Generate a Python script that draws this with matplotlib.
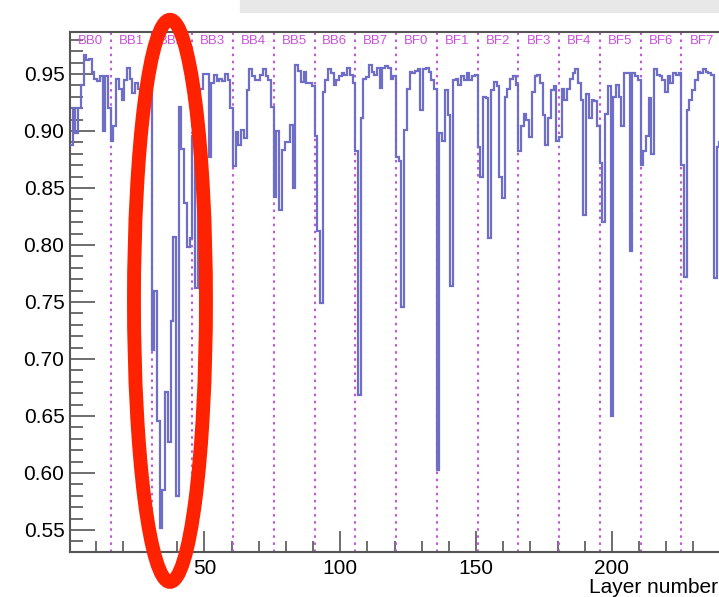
import numpy as np
import matplotlib.pyplot as plt
from matplotlib.patches import Ellipse, Rectangle
from matplotlib.ticker import MultipleLocator

plt.rcParams['font.family'] = ['Liberation Sans', 'DejaVu Sans']

# efficiency per layer, 15 layers per sector
sectors = ['BB0', 'BB1', 'BB2', 'BB3', 'BB4', 'BB5', 'BB6', 'BB7',
           'BF0', 'BF1', 'BF2', 'BF3', 'BF4', 'BF5', 'BF6', 'BF7']
bb0 = [0.888, 0.920, 0.898, 0.920, 0.940, 0.967, 0.962, 0.963, 0.952, 0.946, 0.944, 0.948, 0.900, 0.948, 0.920]
bb1 = [0.891, 0.904, 0.946, 0.937, 0.927, 0.945, 0.955, 0.946, 0.933, 0.942, 0.937, 0.937, 0.940, 0.940, 0.938]
bb2 = [0.708, 0.760, 0.646, 0.552, 0.585, 0.671, 0.627, 0.733, 0.807, 0.580, 0.921, 0.884, 0.837, 0.798, 0.806]
bb3 = [0.896, 0.762, 0.936, 0.937, 0.950, 0.950, 0.877, 0.942, 0.949, 0.944, 0.946, 0.944, 0.950, 0.945, 0.920]
bb4 = [0.869, 0.899, 0.888, 0.901, 0.894, 0.936, 0.954, 0.948, 0.945, 0.945, 0.949, 0.954, 0.948, 0.945, 0.921]
bb5 = [0.842, 0.900, 0.831, 0.883, 0.890, 0.890, 0.905, 0.850, 0.958, 0.953, 0.943, 0.952, 0.942, 0.942, 0.939]
bb6 = [0.896, 0.812, 0.749, 0.934, 0.945, 0.954, 0.951, 0.940, 0.945, 0.948, 0.951, 0.949, 0.955, 0.949, 0.942]
bb7 = [0.882, 0.668, 0.911, 0.946, 0.947, 0.958, 0.952, 0.949, 0.955, 0.938, 0.955, 0.957, 0.955, 0.946, 0.948]
bf0 = [0.877, 0.874, 0.746, 0.901, 0.937, 0.952, 0.951, 0.953, 0.954, 0.918, 0.954, 0.955, 0.952, 0.945, 0.937]
bf1 = [0.603, 0.898, 0.891, 0.936, 0.914, 0.764, 0.945, 0.946, 0.940, 0.948, 0.945, 0.951, 0.945, 0.948, 0.949]
bf2 = [0.886, 0.860, 0.930, 0.929, 0.806, 0.936, 0.943, 0.939, 0.860, 0.841, 0.930, 0.937, 0.946, 0.948, 0.940]
bf3 = [0.882, 0.904, 0.915, 0.910, 0.895, 0.934, 0.948, 0.949, 0.942, 0.914, 0.888, 0.911, 0.936, 0.939, 0.891]
bf4 = [0.895, 0.937, 0.927, 0.937, 0.946, 0.951, 0.954, 0.942, 0.927, 0.826, 0.932, 0.911, 0.927, 0.926, 0.904]
bf5 = [0.872, 0.820, 0.915, 0.939, 0.650, 0.930, 0.940, 0.930, 0.904, 0.951, 0.951, 0.795, 0.951, 0.948, 0.945]
bf6 = [0.870, 0.882, 0.896, 0.929, 0.880, 0.954, 0.949, 0.948, 0.945, 0.934, 0.948, 0.942, 0.951, 0.949, 0.951]
bf7 = [0.870, 0.772, 0.918, 0.927, 0.936, 0.945, 0.952, 0.951, 0.954, 0.952, 0.951, 0.949, 0.771, 0.886, 0.890]

eff = np.concatenate([bb0, bb1, bb2, bb3, bb4, bb5, bb6, bb7,
                      bf0, bf1, bf2, bf3, bf4, bf5, bf6, bf7])
n_per = 15
edges = np.arange(0.5, len(eff) + 1.5)

fig = plt.figure(figsize=(7.19, 5.97), dpi=100)
ax = fig.add_axes([70 / 719, 1 - 552 / 597, 652 / 719, 520 / 597])

ax.stairs(eff, edges, baseline=None, color='#6e6ec8', lw=1.6, zorder=3)

# sector boundaries and names
for i in range(1, len(sectors)):
    ax.axvline(i * n_per + 0.5, color='#c25ad8', lw=1.5, ls=(0, (1.2, 2.2)), zorder=2)
for i, s in enumerate(sectors):
    ax.text(i * n_per + 8, 0.983, s, color='#cc50dd', fontsize=9.5, ha='center', va='center',
            transform=ax.get_xaxis_transform())

ax.set_xlim(0.5, 240.5)
ax.set_ylim(0.5307, 0.9868)
ax.xaxis.set_major_locator(MultipleLocator(50))
ax.xaxis.set_minor_locator(MultipleLocator(10))
ax.yaxis.set_major_locator(MultipleLocator(0.05))
ax.yaxis.set_minor_locator(MultipleLocator(0.01))
ax.yaxis.set_major_formatter(plt.FormatStrFormatter('%.2f'))
ax.tick_params(which='both', direction='in', color='#555555', width=1.2,
               labelsize=15, top=False, right=False)
ax.tick_params(axis='y', which='major', length=18, pad=4)
ax.tick_params(axis='y', which='minor', length=9)
ax.tick_params(axis='x', which='major', length=15, pad=5)
ax.tick_params(axis='x', which='minor', length=8)
for sp in ax.spines.values():
    sp.set_color('#555555')
    sp.set_linewidth(1.5)

ax.text(0.994, -0.069, 'Layer number', fontsize=15, ha='right', va='center', transform=ax.transAxes)

# red highlight around the bad sector
ax.add_patch(Ellipse((37.3, 0.751), 26.5, 0.493, fill=False, edgecolor='#ff2200',
                     lw=10, clip_on=False, zorder=5))

# grey strip at the top of the screenshot
fig.patches.append(Rectangle((240 / 719, 1 - 12 / 597), 1, 12 / 597,
                             transform=fig.transFigure, color='#e8e8e8', zorder=0))

fig.savefig('out.png', dpi=100)
